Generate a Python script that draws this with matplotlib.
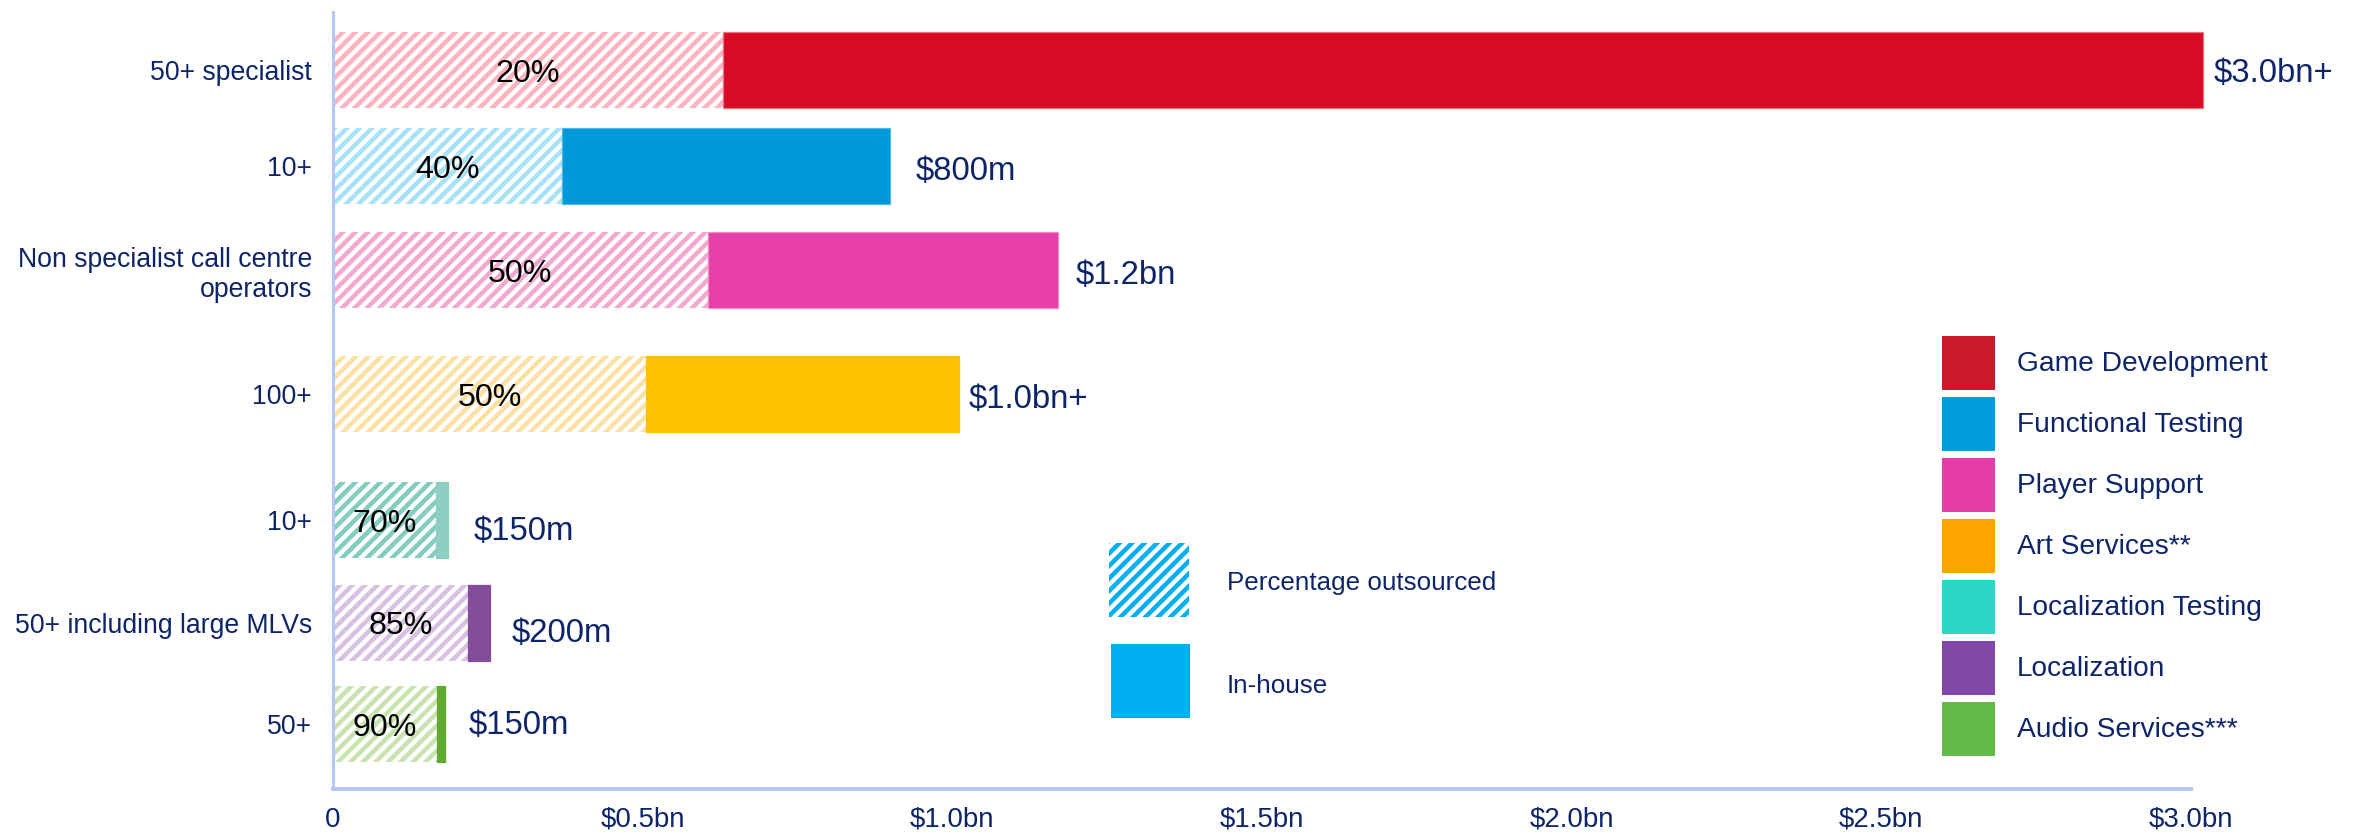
import matplotlib
matplotlib.use("Agg")
import matplotlib.pyplot as plt
from matplotlib.patches import Rectangle

plt.rcParams['font.family'] = ['Liberation Sans', 'DejaVu Sans']
plt.rcParams['hatch.linewidth'] = 4.3

# ------------------------------------------------------------
# data (values in $bn)
# ------------------------------------------------------------
categories = ["50+ specialist", "10+", "Non specialist call centre\noperators",
              "100+", "10+", "50+ including large MLVs", "50+"]
services = ["Game Development", "Functional Testing", "Player Support",
            "Art Services**", "Localization Testing", "Localization",
            "Audio Services***"]
totals = [3.02, 0.90, 1.17, 1.01, 0.185, 0.253, 0.181]
outsourced = [0.63, 0.37, 0.605, 0.506, 0.166, 0.218, 0.168]
pct_labels = ["20%", "40%", "50%", "50%", "70%", "85%", "90%"]
value_labels = ["$3.0bn+", "$800m", "$1.2bn", "$1.0bn+", "$150m", "$200m", "$150m"]
x_ticks = [0, 0.5, 1.0, 1.5, 2.0, 2.5, 3.0]
x_ticklabels = ["0", "$0.5bn", "$1.0bn", "$1.5bn", "$2.0bn", "$2.5bn", "$3.0bn"]

# styles
solid_colors = ["#d80a25", "#0098d8", "#e83fa8", "#ffc000", "#8ecfc4", "#844d9c", "#5eab30"]
edge_colors = ["#e8707f", "#4fb8e6", "#ef8cc6", "#ffc000", "#8ecfc4", "#844d9c", "#5eab30"]
hatch_colors = ["#fdb3bf", "#a6e1f6", "#f2a9d0", "#fde1a4", "#82ccc0", "#d7c0e0", "#c8e3b0"]
legend_colors = ["#c8192d", "#009cde", "#e63ca5", "#ffa300", "#2ad6c4", "#8246a6", "#62bb46"]
navy = "#0d2468"
axis_blue = "#b4c7f7"

# row centres, measured in pixels from the top of the plot area
row_pos = [58, 154, 258, 382, 508, 611, 712]
bar_h = 76
# label offsets (px) to the right of / below the bar end
gap_x = [10, 25, 18, 10, 26, 22, 24]
gap_y = [0, 2, 2, 2, 8, 7, -2]

W, H, DPI = 2359, 832, 75
fig = plt.figure(figsize=(W / DPI, H / DPI), dpi=DPI)
ax = fig.add_axes([333 / W, 1 - 789 / H, (2191 - 333) / W, (789 - 12) / H])

# outsourced part (hatched) and in-house part (solid)
ax.barh(row_pos, outsourced, height=bar_h, color="white",
        edgecolor=hatch_colors, hatch="//", linewidth=0)
inhouse = [t - o for t, o in zip(totals, outsourced)]
bars = ax.barh(row_pos, inhouse, left=outsourced, height=bar_h, color=solid_colors,
               edgecolor=edge_colors, linewidth=1.2)
for b in bars:
    b.set_clip_on(False)

for y, o, p in zip(row_pos, outsourced, pct_labels):
    ax.text(o / 2, y, p, ha="center", va="center_baseline", fontsize=31, color="black")

pt = 72 / DPI
for y, t, v, gx, gy in zip(row_pos, totals, value_labels, gap_x, gap_y):
    ax.annotate(v, xy=(t, y), xytext=(gx * pt, -gy * pt), textcoords="offset points",
                ha="left", va="center_baseline", fontsize=31.5, color=navy,
                annotation_clip=False)

ax.set_xlim(0, 3.0)
ax.set_ylim(777, 0)
ax.set_yticks(row_pos)
ax.set_yticklabels(categories, fontsize=25.5, color=navy)
ax.set_xticks(x_ticks)
ax.set_xticklabels(x_ticklabels, fontsize=26.5, color=navy)
ax.tick_params(axis="y", length=0, pad=20)
ax.tick_params(axis="x", length=0, pad=17)

ax.spines["top"].set_visible(False)
ax.spines["right"].set_visible(False)
ax.spines["left"].set_color(axis_blue)
ax.spines["left"].set_linewidth(2.9)
ax.spines["bottom"].set_color(axis_blue)
ax.spines["bottom"].set_linewidth(3.8)


def fx(px):
    return px / W


def fy(py):
    return 1 - py / H


# colour key on the right
for i, (name, c) in enumerate(zip(services, legend_colors)):
    top = 336 + 61 * i
    fig.add_artist(Rectangle((fx(1942), fy(top + 54)), 53 / W, 54 / H,
                             transform=fig.transFigure, facecolor=c, edgecolor="none"))
    fig.text(fx(2017), fy(top + 28), name, ha="left", va="center",
             fontsize=27, color=navy)

# pattern key in the middle
fig.add_artist(Rectangle((fx(1109), fy(617)), 80 / W, 74 / H, transform=fig.transFigure,
                         facecolor="white", edgecolor="#00b0f0", hatch="//", linewidth=0))
fig.text(fx(1227), fy(583), "Percentage outsourced", ha="left", va="center",
         fontsize=25, color=navy)
fig.add_artist(Rectangle((fx(1111), fy(718)), 79 / W, 74 / H, transform=fig.transFigure,
                         facecolor="#00b0f0", edgecolor="none"))
fig.text(fx(1227), fy(686), "In-house", ha="left", va="center",
         fontsize=25, color=navy)

fig.savefig("out.png", dpi=DPI)
